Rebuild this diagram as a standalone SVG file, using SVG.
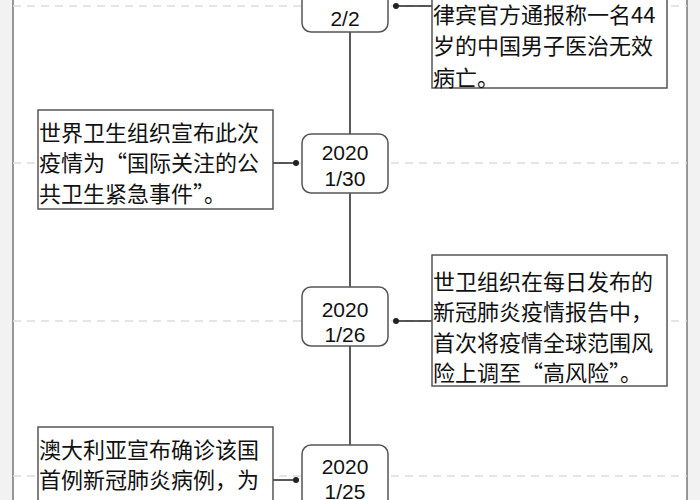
<svg xmlns="http://www.w3.org/2000/svg" width="700" height="500" viewBox="0 0 700 500">
<style>
.bg{fill:#f2f2f2}
.frame{fill:#fff;stroke:#777;stroke-width:1.5}
.dash{stroke:#ddd;stroke-width:1.5;stroke-dasharray:8 6}
.date{fill:#fff;stroke:#555;stroke-width:1.5}
.box{fill:#fff;stroke:#555;stroke-width:1.5}
.t{font-family:"Noto Sans CJK SC","Liberation Sans",sans-serif;font-size:22px;fill:#111}
.d{font-family:"Liberation Sans","Noto Sans",sans-serif;font-size:21px;fill:#111;text-anchor:middle}
.ln{stroke:#222;stroke-width:1.5;fill:none}
.dot{fill:#222}
</style>
<rect class="bg" x="0" y="0" width="700" height="500"/>
<rect class="frame" x="13" y="-10" width="674" height="520"/>
<g id="grid">
<line class="dash" x1="13" y1="6" x2="687" y2="6"/>
<line class="dash" x1="13" y1="163" x2="687" y2="163"/>
<line class="dash" x1="13" y1="321" x2="687" y2="321"/>
<line class="dash" x1="13" y1="476" x2="687" y2="476"/>
</g>
<g id="connectors">
<line class="ln" x1="350" y1="32" x2="350" y2="445"/>
<line class="ln" x1="396" y1="6" x2="432" y2="6"/><circle class="dot" cx="396" cy="6" r="3"/>
<line class="ln" x1="273" y1="163" x2="296" y2="163"/><circle class="dot" cx="296" cy="163" r="3"/>
<line class="ln" x1="396" y1="321" x2="432" y2="321"/><circle class="dot" cx="396" cy="321" r="3"/>
<line class="ln" x1="273" y1="480" x2="296" y2="480"/><circle class="dot" cx="296" cy="480" r="3"/>
</g>
<g id="d1"><rect class="date" x="302" y="-30" width="86" height="62" rx="9"/>
<text class="d" x="345" y="0">2020</text><text class="d" x="345" y="26">2/2</text></g>
<g id="e1"><rect class="box" x="432" y="-30" width="235" height="118"/>
<text class="t" x="433" y="23">律宾官方通报称一名44</text>
<text class="t" x="433" y="54">岁的中国男子医治无效</text>
<text class="t" x="433" y="86">病亡。</text></g>
<g id="d2"><rect class="date" x="302" y="134" width="86" height="59" rx="9"/>
<text class="d" x="345" y="160">2020</text><text class="d" x="345" y="186">1/30</text></g>
<g id="e2"><rect class="box" x="38" y="110" width="235" height="99"/>
<text class="t" x="39" y="141">世界卫生组织宣布此次</text>
<text class="t" x="39" y="171">疫情为“国际关注的公</text>
<text class="t" x="39" y="202">共卫生紧急事件”。</text></g>
<g id="d3"><rect class="date" x="302" y="287" width="86" height="59" rx="9"/>
<text class="d" x="345" y="317">2020</text><text class="d" x="345" y="342">1/26</text></g>
<g id="e3"><rect class="box" x="432" y="255" width="235" height="131"/>
<text class="t" x="433" y="290">世卫组织在每日发布的</text>
<text class="t" x="433" y="320">新冠肺炎疫情报告中，</text>
<text class="t" x="433" y="351">首次将疫情全球范围风</text>
<text class="t" x="433" y="381">险上调至“高风险”。</text></g>
<g id="d4"><rect class="date" x="302" y="445" width="86" height="70" rx="9"/>
<text class="d" x="345" y="474">2020</text><text class="d" x="345" y="499">1/25</text></g>
<g id="e4"><rect class="box" x="38" y="427" width="235" height="90"/>
<text class="t" x="39" y="458">澳大利亚宣布确诊该国</text>
<text class="t" x="39" y="488">首例新冠肺炎病例，为</text></g>
</svg>
